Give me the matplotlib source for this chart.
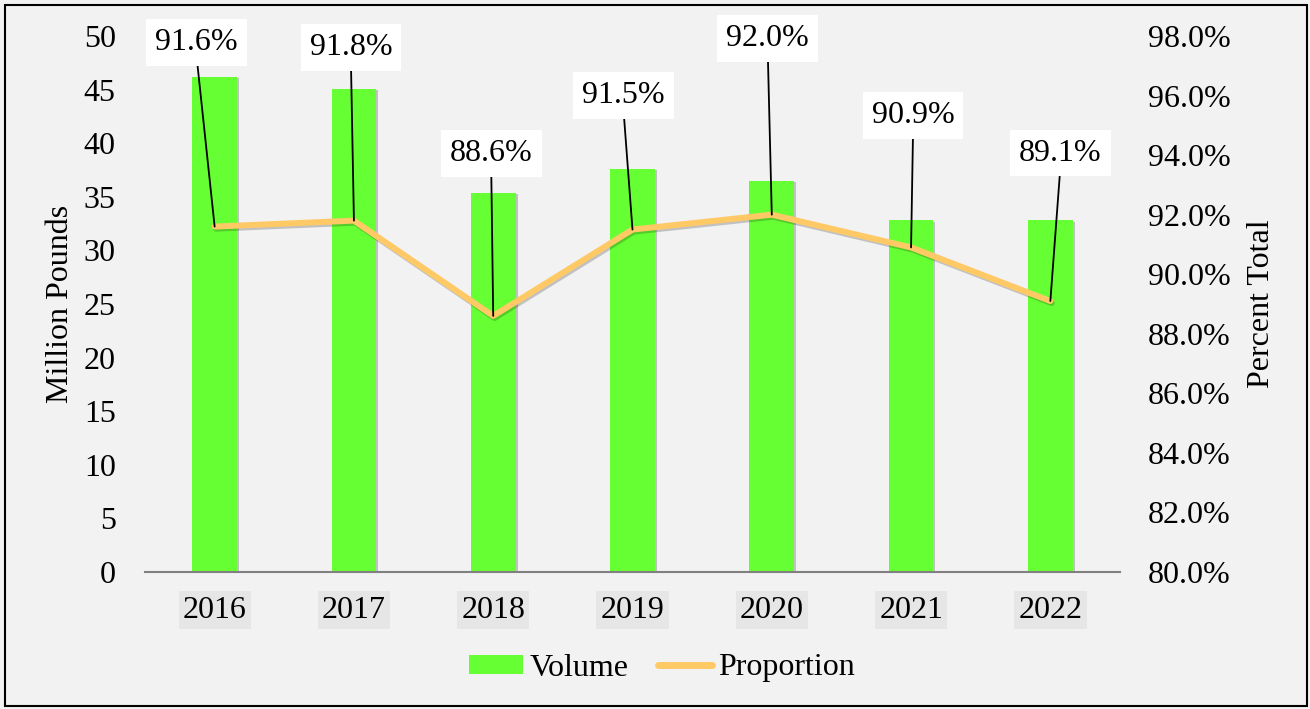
import matplotlib
matplotlib.use("Agg")
import matplotlib.pyplot as plt
import matplotlib.patheffects as pe
from matplotlib.patches import Rectangle, Patch
from matplotlib.lines import Line2D
from matplotlib.ticker import FuncFormatter

years = ["2016", "2017", "2018", "2019", "2020", "2021", "2022"]
volume = [46.2, 45.1, 35.4, 37.6, 36.5, 32.8, 32.8]
proportion = [91.6, 91.8, 88.6, 91.5, 92.0, 90.9, 89.1]
prop_labels = ["91.6%", "91.8%", "88.6%", "91.5%", "92.0%", "90.9%", "89.1%"]

# label offsets (pixels) from each point
label_dx = [-18, -3, -2, -9, -4, 2, 10]
label_dy = [184, 173, 162, 134, 176, 132, 148]

plt.rcParams['font.family'] = ['Liberation Serif', 'DejaVu Serif']
FS = 23
BG = '#f2f2f2'

fig = plt.figure(figsize=(13.1, 7.09), dpi=100, facecolor=BG)
ax = fig.add_axes([145/1310, 1-572/709, 975/1310, 536/709])
ax.set_facecolor(BG)
ax2 = ax.twinx()

x = list(range(len(years)))
bars = ax.bar(x, volume, width=0.32, color='#66ff33', zorder=2,
              path_effects=[pe.SimplePatchShadow(offset=(1.5, -1), alpha=0.2, shadow_rgbFace='k'), pe.Normal()])
ax.set_xlim(-0.5, len(years) - 0.5)
ax.set_ylim(0, 50)
ax.set_yticks(range(0, 51, 5))

ax2.plot(x, proportion, color='#ffc966', lw=4.3, solid_capstyle='round', solid_joinstyle='round', zorder=3,
         path_effects=[pe.SimpleLineShadow(offset=(1, -1.5), alpha=0.2, shadow_color='k'), pe.Normal()])
ax2.set_ylim(80, 98)
ax2.set_yticks([80, 82, 84, 86, 88, 90, 92, 94, 96, 98])
ax2.yaxis.set_major_formatter(FuncFormatter(lambda v, p: f"{v:.1f}%"))

for a in (ax, ax2):
    for s in a.spines.values():
        s.set_visible(False)
ax.spines['bottom'].set_visible(True)
ax.spines['bottom'].set_color('#808080')
ax.spines['bottom'].set_linewidth(1.5)

ax.tick_params(axis='y', length=0, labelsize=FS, pad=21)
ax2.tick_params(axis='y', length=0, labelsize=FS, pad=20)
ax.set_xticks(x)
ax.set_xticklabels(years)
ax.tick_params(axis='x', length=0, labelsize=FS, pad=17)
for t in ax.get_xticklabels():
    t.set_bbox(dict(facecolor='#e6e6e6', edgecolor='none', pad=3))

ax.set_ylabel("Million Pounds", fontsize=FS)
ax.yaxis.set_label_coords(-0.072, 0.5)
ax2.set_ylabel("Percent Total", fontsize=FS)
ax2.yaxis.set_label_coords(1.130, 0.5)

for i, (v, lab) in enumerate(zip(proportion, prop_labels)):
    ax2.annotate(lab, xy=(i, v), xytext=(label_dx[i], label_dy[i]), textcoords='offset pixels',
                 ha='center', va='center', fontsize=FS, zorder=5,
                 bbox=dict(boxstyle='square,pad=0.28', facecolor='white', edgecolor='none'),
                 arrowprops=dict(arrowstyle='-', color='black', lw=1.3, shrinkA=0, shrinkB=0,
                                 relpos=(0.5, 0.0)))

handles = [Patch(facecolor='#66ff33', edgecolor='none'),
           Line2D([0], [0], color='#ffc966', lw=5, solid_capstyle='round')]
fig.legend(handles, ["Volume", "Proportion"], loc='center', bbox_to_anchor=(662/1310, 1-668/709),
           ncol=2, frameon=False, fontsize=FS, handlelength=1.7, handletextpad=0.2,
           columnspacing=0.9, handleheight=0.55)

fig.add_artist(Rectangle((5/1310, 3/709), 1302/1310, 701/709, transform=fig.transFigure,
                         fill=False, edgecolor='black', lw=1.5))

fig.savefig("out.png", dpi=100, facecolor=BG)
